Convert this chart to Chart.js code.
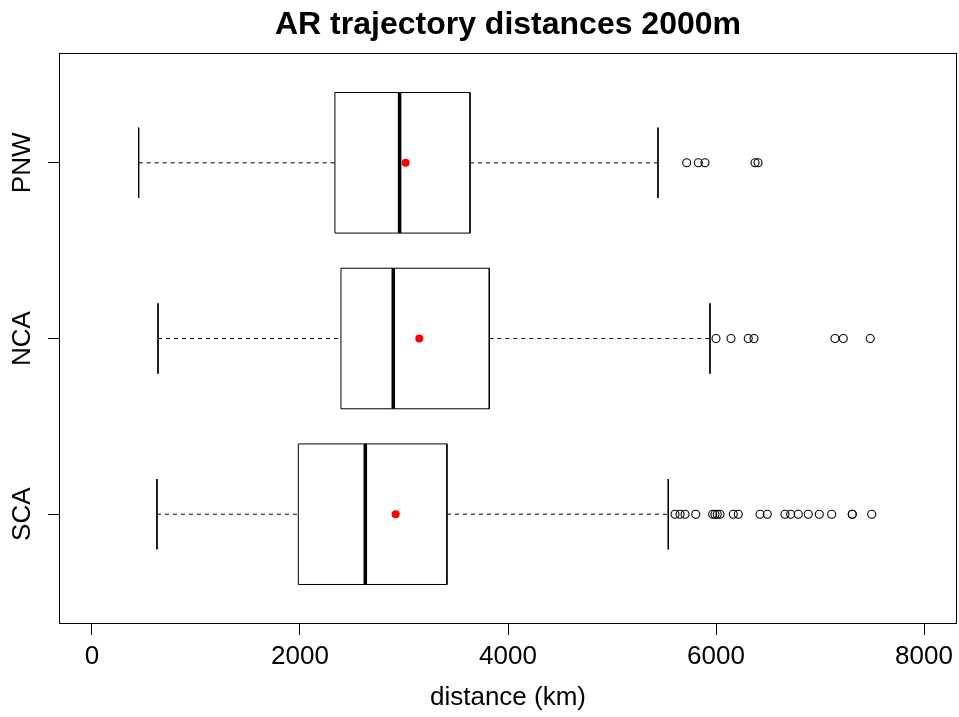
<!DOCTYPE html>
<html>
<head>
<meta charset="utf-8">
<title>AR trajectory distances 2000m</title>
<script src="https://cdn.jsdelivr.net/npm/chart.js@4.4.1/dist/chart.umd.min.js"></script>
<style>
  html, body { margin: 0; padding: 0; background: #fff; }
  #wrap { width: 959px; height: 717px; }
</style>
</head>
<body>
<div id="wrap"><canvas id="chart" width="959" height="717"></canvas></div>
<script>
/* boxplot of AR trajectory distances, drawn with plain scatter/line datasets */

const TITLE = "AR trajectory distances 2000m";
const X_TITLE = "distance (km)";

// data (km), top to bottom
const groups = ["PNW", "NCA", "SCA"];
const whiskerLow = [449, 635, 625];
const q1 = [2336, 2394, 1984];
const medians = [2958, 2897, 2628];
const q3 = [3635, 3820, 3413];
const whiskerHigh = [5442, 5942, 5541];
const means = [3016, 3147, 2920];
const outliersPNW = [5718, 5830, 5894, 6375, 6404];
const outliersNCA = [6000, 6144, 6310, 6365, 7144, 7224, 7483];
const outliersSCA = [5606, 5654, 5702, 5805, 5968, 5990, 6012, 6038, 6166, 6214,
                     6423, 6493, 6663, 6718, 6791, 6887, 6993, 7112, 7310, 7310, 7497];
const outliers = [outliersPNW, outliersNCA, outliersSCA];
const xTicks = [0, 2000, 4000, 6000, 8000];

const FONT = "'Liberation Sans', Arial, Helvetica, sans-serif";
const BOX_HALF = 0.4;
const CAP_HALF = 0.2;

function lineSet(points, width, dash) {
  return {
    data: points, showLine: true, borderColor: "#000", borderWidth: width,
    borderDash: dash || [], pointRadius: 0, pointHoverRadius: 0, tension: 0, fill: false
  };
}

const datasets = [];
groups.forEach((g, i) => {
  const y = i + 1;
  // whiskers
  datasets.push(lineSet([{x: whiskerLow[i], y}, {x: q1[i], y}], 1, [4, 4]));
  datasets.push(lineSet([{x: q3[i], y}, {x: whiskerHigh[i], y}], 1, [4, 4]));
  // caps
  datasets.push(lineSet([{x: whiskerLow[i], y: y - CAP_HALF}, {x: whiskerLow[i], y: y + CAP_HALF}], 1));
  datasets.push(lineSet([{x: whiskerHigh[i], y: y - CAP_HALF}, {x: whiskerHigh[i], y: y + CAP_HALF}], 1));
  // box
  datasets.push(lineSet([
    {x: q1[i], y: y - BOX_HALF}, {x: q3[i], y: y - BOX_HALF},
    {x: q3[i], y: y + BOX_HALF}, {x: q1[i], y: y + BOX_HALF},
    {x: q1[i], y: y - BOX_HALF}
  ], 1));
  // median
  datasets.push(lineSet([{x: medians[i], y: y - BOX_HALF}, {x: medians[i], y: y + BOX_HALF}], 3.5));
  // outliers
  datasets.push({
    data: outliers[i].map(v => ({x: v, y})),
    pointStyle: "circle", pointRadius: 4, pointBorderWidth: 1.1,
    pointBorderColor: "#000", pointBackgroundColor: "rgba(0,0,0,0)", showLine: false
  });
  // mean
  datasets.push({
    data: [{x: means[i], y}],
    pointStyle: "circle", pointRadius: 4, pointBorderWidth: 0,
    pointBackgroundColor: "#ff0000", pointBorderColor: "#ff0000", showLine: false
  });
});

// frame, title and rotated group labels
const decor = {
  id: "decor",
  afterDraw(chart) {
    const ctx = chart.ctx, a = chart.chartArea, ys = chart.scales.y;
    ctx.save();
    ctx.strokeStyle = "#000";
    ctx.lineWidth = 1;
    ctx.strokeRect(a.left + 0.5, a.top + 0.5, a.right - a.left - 1, a.bottom - a.top - 1);

    ctx.fillStyle = "#000";
    ctx.textAlign = "center";
    ctx.textBaseline = "middle";
    ctx.font = "bold 32px " + FONT;
    ctx.fillText(TITLE, (a.left + a.right) / 2, 25);

    ctx.font = "26px " + FONT;
    groups.forEach((g, i) => {
      ctx.save();
      ctx.translate(23, ys.getPixelForValue(i + 1));
      ctx.rotate(-Math.PI / 2);
      ctx.fillText(g, 0, 0);
      ctx.restore();
    });
    ctx.restore();
  }
};

new Chart(document.getElementById("chart"), {
  type: "scatter",
  data: { datasets },
  options: {
    responsive: false,
    animation: false,
    events: [],
    layout: { autoPadding: false, padding: { top: 53, right: 2, left: 0, bottom: 0 } },
    plugins: { legend: { display: false }, tooltip: { enabled: false }, title: { display: false } },
    scales: {
      x: {
        type: "linear", min: -317, max: 8317,
        afterBuildTicks: s => { s.ticks = xTicks.map(v => ({value: v})); },
        afterFit: s => { s.height = 93; s.paddingLeft = 0; s.paddingRight = 0; },
        border: { display: false },
        grid: { drawOnChartArea: false, drawTicks: true, tickLength: 11, color: "#000", lineWidth: 1 },
        ticks: { color: "#000", padding: 6, maxRotation: 0, font: { family: FONT, size: 26 },
                 callback: v => String(v) },
        title: { display: true, text: X_TITLE, color: "#000", font: { family: FONT, size: 26 },
                 padding: { top: 0, bottom: 4 } }
      },
      y: {
        type: "linear", min: 0.375, max: 3.625, reverse: true,
        afterBuildTicks: s => { s.ticks = groups.map((g, i) => ({value: i + 1})); },
        afterFit: s => { s.width = 59; s.paddingTop = 0; s.paddingBottom = 0; },
        border: { display: false },
        grid: { drawOnChartArea: false, drawTicks: true, tickLength: 11, color: "#000", lineWidth: 1 },
        ticks: { display: false }
      }
    }
  },
  plugins: [decor]
});
</script>
</body>
</html>
